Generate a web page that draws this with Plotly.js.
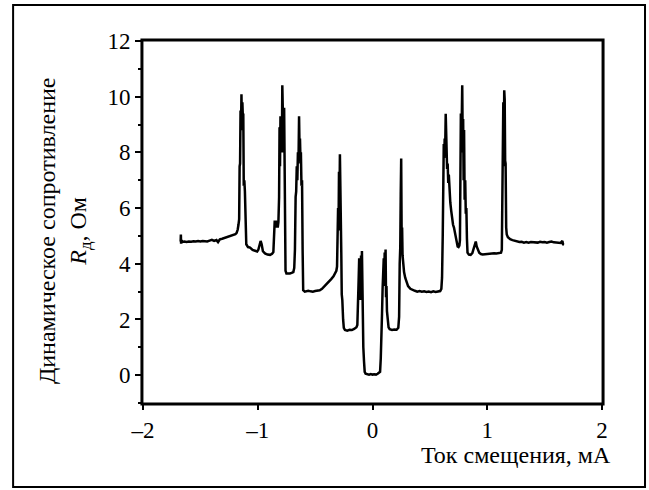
<!DOCTYPE html>
<html>
<head>
<meta charset="utf-8">
<script src="https://cdn.plot.ly/plotly-3.0.1.min.js"></script>
<style>html,body{margin:0;padding:0;background:#fff;}#chart{width:649px;height:490px;}</style>
</head>
<body>
<div id="chart"></div>
<script>
// Bias current, mA
const biasCurrent = [
-1.672,-1.670,-1.668,-1.665,-1.660,-1.640,-1.620,-1.600,-1.580,-1.560,-1.540,-1.520,-1.500,-1.480,-1.460,-1.440,-1.420,-1.400,-1.380,-1.360,-1.346,-1.330,-1.310,-1.290,-1.270,-1.250,-1.230,-1.210,-1.195,
-1.185,-1.175,-1.168,-1.162,-1.158,-1.154,-1.150,-1.146,-1.142,-1.138,-1.134,-1.130,-1.126,-1.122,-1.117,-1.112,-1.106,-1.100,
-1.085,-1.067,-1.045,-1.024,-1.005,-0.995,-0.985,-0.975,-0.966,-0.955,-0.937,-0.915,-0.893,-0.875,-0.864,
-0.857,-0.852,-0.847,-0.842,-0.837,-0.832,-0.826,-0.820,-0.814,-0.810,-0.806,-0.802,-0.798,-0.794,-0.790,-0.786,-0.782,-0.778,-0.774,-0.770,-0.766,-0.762,-0.758,
-0.750,-0.735,-0.720,-0.705,-0.690,-0.682,-0.676,-0.670,-0.665,-0.660,-0.655,-0.650,-0.645,-0.640,-0.636,-0.632,-0.628,-0.624,-0.619,-0.614,-0.609,-0.604,
-0.590,-0.575,-0.560,-0.540,-0.520,-0.500,-0.480,-0.460,-0.440,-0.420,-0.400,-0.380,-0.360,-0.340,-0.325,-0.315,
-0.309,-0.304,-0.300,-0.296,-0.292,-0.288,-0.284,-0.280,-0.276,-0.272,-0.268,-0.263,-0.256,-0.250,
-0.240,-0.220,-0.200,-0.180,-0.160,-0.150,-0.140,-0.132,-0.126,-0.121,-0.116,-0.112,-0.108,-0.104,-0.100,-0.096,-0.092,-0.088,-0.084,-0.080,-0.074,-0.068,
-0.060,-0.045,-0.030,-0.015,0.000,0.015,0.030,0.045,0.060,0.066,
0.072,0.078,0.083,0.088,0.093,0.098,0.102,0.106,0.110,0.114,0.118,0.122,0.126,0.132,0.140,
0.150,0.170,0.190,0.210,0.225,0.232,0.237,0.242,0.246,0.250,0.254,0.258,0.262,0.268,0.275,0.285,0.295,
0.310,0.330,0.350,0.370,0.390,0.410,0.430,0.450,0.470,0.490,0.510,0.530,0.550,0.570,0.590,
0.600,0.606,0.612,0.617,0.621,0.625,0.629,0.633,0.638,0.642,0.646,0.650,0.655,0.660,0.665,0.670,0.678,0.686,0.694,0.702,0.710,0.718,0.726,0.734,0.742,0.750,0.757,
0.762,0.766,0.770,0.774,0.778,0.782,0.786,0.790,0.794,0.798,0.803,0.808,0.813,0.818,0.823,0.828,
0.840,0.855,0.870,0.885,0.893,0.900,0.908,0.918,0.930,0.945,0.960,0.980,1.000,1.020,1.040,1.060,1.080,1.100,1.120,
1.127,1.131,1.136,1.140,1.144,1.148,1.152,1.156,1.160,1.165,1.170,
1.180,1.200,1.220,1.240,1.260,1.280,1.300,1.320,1.340,1.360,1.380,1.400,1.420,1.440,1.460,1.480,1.500,1.520,1.540,1.560,1.580,1.600,1.620,1.640,1.655,1.660,1.668
];
// Dynamic resistance R_d, Ohm
const dynResistance = [
4.80,5.05,4.72,4.85,4.78,4.80,4.78,4.80,4.79,4.81,4.80,4.82,4.80,4.82,4.82,4.80,4.83,4.86,4.82,4.85,4.78,4.88,4.90,4.93,4.95,4.97,5.00,5.03,5.06,
5.10,5.22,5.40,5.60,7.50,7.60,9.50,8.80,10.09,9.00,9.80,9.30,9.40,6.80,7.00,6.60,4.80,4.70,
4.60,4.58,4.50,4.46,4.44,4.50,4.70,4.82,4.70,4.45,4.37,4.33,4.32,4.36,4.42,
4.85,5.55,5.40,5.55,5.30,5.40,5.30,5.50,6.40,8.90,7.50,9.30,8.20,9.00,8.00,10.41,9.80,9.40,8.00,9.60,7.00,5.50,3.75,
3.65,3.64,3.65,3.67,3.70,3.85,4.50,6.40,6.60,7.50,7.00,8.00,7.60,9.30,8.20,8.50,7.80,8.00,6.80,7.00,4.50,3.05,
3.00,3.02,3.03,3.01,3.00,3.02,3.03,3.05,3.10,3.18,3.26,3.35,3.45,3.55,3.66,3.75,
3.90,4.60,6.00,5.20,7.30,6.10,7.93,5.50,4.80,4.40,2.90,2.70,2.00,1.70,
1.62,1.60,1.63,1.62,1.66,1.70,1.72,1.80,2.40,3.40,4.20,3.00,3.60,2.70,4.30,3.40,4.46,2.60,2.70,1.00,0.50,0.12,
0.05,0.03,0.02,0.04,0.02,0.03,0.02,0.05,0.08,0.12,
0.60,1.20,2.20,3.10,3.60,4.20,3.20,4.40,3.40,4.51,2.80,3.20,2.30,1.90,1.72,
1.65,1.62,1.64,1.63,1.70,2.10,4.00,4.60,6.50,7.78,5.00,5.30,4.30,3.90,3.70,3.50,3.35,
3.20,3.10,3.05,3.03,3.00,3.02,3.00,3.01,2.99,3.00,2.98,3.01,2.99,3.00,3.02,
3.10,3.50,5.00,7.00,8.30,7.80,8.50,8.00,9.39,8.20,8.70,7.40,7.60,6.90,7.20,6.60,6.20,5.90,5.60,5.40,5.30,5.10,4.90,4.75,4.62,4.60,4.65,
4.85,6.50,9.40,8.00,9.60,10.41,8.50,9.20,7.00,8.80,6.30,7.00,5.80,6.00,4.90,4.40,
4.33,4.32,4.38,4.55,4.72,4.80,4.62,4.48,4.40,4.35,4.33,4.34,4.35,4.37,4.36,4.38,4.37,4.38,4.40,
4.50,7.00,7.10,9.80,7.50,10.23,9.90,7.70,7.60,5.30,5.05,
4.95,4.88,4.85,4.82,4.80,4.78,4.79,4.76,4.78,4.76,4.78,4.77,4.78,4.76,4.79,4.77,4.78,4.76,4.78,4.80,4.77,4.76,4.77,4.75,4.82,4.70,4.68
];
const xTickVals = [-2, -1, 0, 1, 2];
const xTickText = ['\u20132', '\u20131', '0', '1', '2'];
const yTickVals = [0, 2, 4, 6, 8, 10, 12];
const xTitle = 'Ток смещения, мА';
const yTitleLine1 = 'Динамическое сопротивление';
const yTitleLine2 = '<i>R</i><sub>д</sub>, Ом';

const FONT = 'Liberation Serif';
const tickFont = {family: FONT, size: 23, color: '#000'};
const titleFont = {family: FONT, size: 24, color: '#000'};
const noLine = {showgrid: false, zeroline: false, showline: false, fixedrange: true};

const traces = [{
  x: biasCurrent, y: dynResistance, type: 'scatter', mode: 'lines',
  line: {color: '#000', width: 2.5}, hoverinfo: 'skip', showlegend: false
}];

const layout = {
  width: 649, height: 490,
  margin: {l: 143, r: 47, t: 41, b: 87},
  paper_bgcolor: '#fff', plot_bgcolor: 'rgba(0,0,0,0)',
  font: {family: FONT, size: 23, color: '#000'},
  showlegend: false,
  xaxis: Object.assign({}, noLine, {
    range: [-2, 2], tickmode: 'array', tickvals: xTickVals, ticktext: xTickText,
    ticks: 'outside', ticklen: 6, tickwidth: 2, tickcolor: '#000', tickfont: tickFont
  }),
  yaxis: Object.assign({}, noLine, {
    range: [-1, 12], tickmode: 'array', tickvals: yTickVals,
    ticks: 'outside', ticklen: 7, tickwidth: 2, tickcolor: '#000', tickfont: tickFont,
    minor: {dtick: 1, tick0: 0, ticks: 'outside', ticklen: 4, tickwidth: 2, tickcolor: '#000'}
  }),
  xaxis2: Object.assign({}, noLine, {
    overlaying: 'x', side: 'top', range: [-2, 2], tickmode: 'array', tickvals: xTickVals,
    showticklabels: false, ticks: 'inside', ticklen: 6, tickwidth: 2, tickcolor: '#000', anchor: 'y'
  }),
  yaxis2: Object.assign({}, noLine, {
    overlaying: 'y', side: 'right', range: [-1, 12], dtick: 1, tick0: 0,
    showticklabels: false, ticks: 'inside', ticklen: 5, tickwidth: 2, tickcolor: '#000', anchor: 'x'
  }),
  annotations: [
    {xref: 'paper', yref: 'paper', x: 1.024, y: -0.1436, xanchor: 'right', yanchor: 'middle',
     text: xTitle, showarrow: false, font: titleFont},
    {xref: 'paper', yref: 'paper', x: -0.172, y: 0.475, xanchor: 'center', yanchor: 'middle',
     textangle: -90, text: yTitleLine1 + '<br>' + yTitleLine2, showarrow: false,
     font: titleFont}
  ],
  shapes: [
    {type: 'rect', xref: 'paper', yref: 'paper', x0: -0.0023, x1: 1.0023, y0: -0.0029, y1: 1.0029,
     line: {color: '#000', width: 3}, fillcolor: 'rgba(0,0,0,0)', layer: 'below'},
    {type: 'rect', xref: 'paper', yref: 'paper', x0: -0.283, x1: 1.0937, y0: -0.232, y1: 1.0994,
     line: {color: '#000', width: 2}, fillcolor: 'rgba(0,0,0,0)', layer: 'below'}
  ]
};

Plotly.newPlot('chart', traces, layout, {staticPlot: true, displayModeBar: false});
</script>
</body>
</html>
